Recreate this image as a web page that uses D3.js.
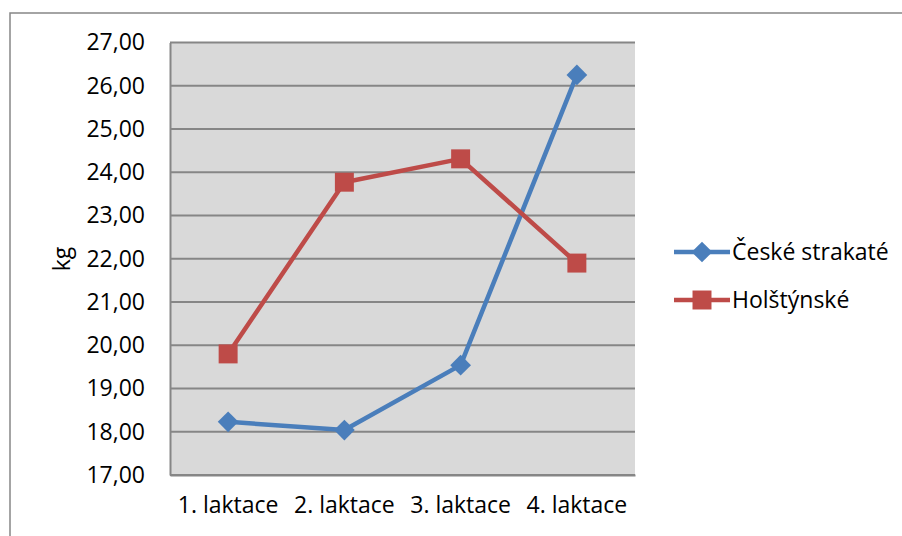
<!DOCTYPE html>
<html>
<head>
<meta charset="utf-8">
<script src="https://cdn.jsdelivr.net/npm/d3@7"></script>
<style>
  html, body { margin: 0; padding: 0; background: #fff; }
  svg text { font-family: "Open Sans", "Noto Sans", sans-serif; fill: #000; }
</style>
</head>
<body>
<svg id="chart" width="902" height="536"></svg>
<script>
// Milk yield per lactation, two breeds
const categories = ["1. laktace", "2. laktace", "3. laktace", "4. laktace"];
const seriesNames = ["České strakaté", "Holštýnské"];
const ceskeStrakate = [18.23, 18.04, 19.54, 26.25];
const holstynske = [19.80, 23.77, 24.31, 21.90];
const yTicks = [17, 18, 19, 20, 21, 22, 23, 24, 25, 26, 27];
const colors = ["#4a7ebb", "#be4b48"];

const svg = d3.select("#chart");
const plot = { left: 170, right: 635, top: 42.5, bottom: 475 };
const fontSize = 23;

// outer chart frame
svg.append("rect")
  .attr("x", 10).attr("y", 13)
  .attr("width", 1000).attr("height", 1000)
  .attr("fill", "#fff").attr("stroke", "#878787").attr("stroke-width", 1.5);

const x = d3.scaleBand().domain(categories).range([plot.left, plot.right]);
const y = d3.scaleLinear().domain([17, 27]).range([plot.bottom, plot.top]);

// plot background
svg.append("rect")
  .attr("x", plot.left).attr("y", plot.top)
  .attr("width", plot.right - plot.left).attr("height", plot.bottom - plot.top)
  .attr("fill", "#d9d9d9");

// horizontal gridlines
svg.append("g").selectAll("line").data(yTicks).join("line")
  .attr("x1", plot.left).attr("x2", plot.right)
  .attr("y1", d => y(d)).attr("y2", d => y(d))
  .attr("stroke", "#868686").attr("stroke-width", 2);

// y axis
const yAxis = svg.append("g")
  .attr("transform", `translate(${plot.left},0)`)
  .call(d3.axisLeft(y).tickValues(yTicks).tickSize(0).tickPadding(25)
    .tickFormat(d => d3.format(".2f")(d).replace(".", ",")));
yAxis.select(".domain").attr("stroke", "#868686").attr("stroke-width", 2);
yAxis.selectAll("text").attr("font-size", fontSize);

// x axis
const xAxis = svg.append("g")
  .attr("transform", `translate(0,${plot.bottom})`)
  .call(d3.axisBottom(x).tickSize(0).tickPadding(22));
xAxis.select(".domain").attr("stroke", "#868686").attr("stroke-width", 2);
xAxis.selectAll("text").attr("font-size", fontSize);

// axis title
svg.append("text")
  .attr("transform", "translate(70,259) rotate(-90)")
  .attr("text-anchor", "middle")
  .attr("font-size", fontSize)
  .text("kg");

const series = [ceskeStrakate, holstynske];
const cx = (d, i) => x(categories[i]) + x.bandwidth() / 2;
const line = d3.line().x(cx).y(d => y(d));

// diamond = square turned by 45°
const markerRot = [45, 0];
const markerSize = [215, 360];
const marker = s => d3.symbol().type(d3.symbolSquare).size(markerSize[s]);

series.forEach((vals, s) => {
  svg.append("path")
    .datum(vals)
    .attr("d", line)
    .attr("fill", "none")
    .attr("stroke", colors[s])
    .attr("stroke-width", 4.5)
    .attr("stroke-linejoin", "round");
  svg.append("g").selectAll("path").data(vals).join("path")
    .attr("transform", (d, i) => `translate(${cx(d, i)},${y(d)}) rotate(${markerRot[s]})`)
    .attr("d", marker(s))
    .attr("fill", colors[s]);
});

// legend
const legend = svg.append("g");
seriesNames.forEach((name, s) => {
  const ly = 252 + s * 48;
  legend.append("line")
    .attr("x1", 674).attr("x2", 730).attr("y1", ly).attr("y2", ly)
    .attr("stroke", colors[s]).attr("stroke-width", 4.5);
  legend.append("path")
    .attr("transform", `translate(702,${ly}) rotate(${markerRot[s]})`)
    .attr("d", marker(s))
    .attr("fill", colors[s]);
  legend.append("text")
    .attr("x", 732).attr("y", ly)
    .attr("dy", "0.35em")
    .attr("font-size", fontSize)
    .text(name);
});
</script>
</body>
</html>
